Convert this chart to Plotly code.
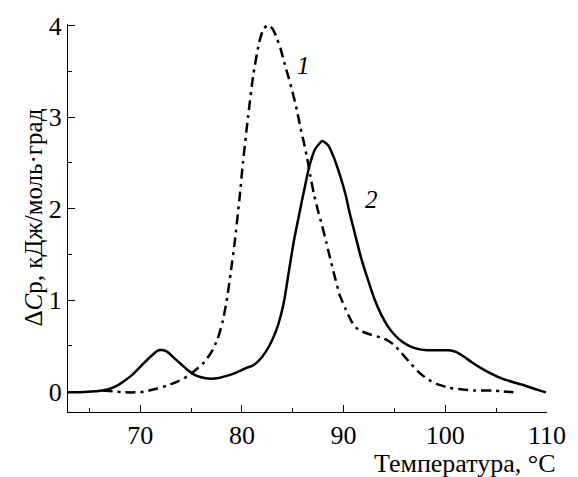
import plotly.graph_objects as go

# Curve 1 (dash-dot)
x1 = [66.3, 67.5, 68.5, 69.5, 70.5, 71.6, 72.7, 73.7, 74.7, 75.5, 76.3, 77.0, 77.6, 78.1, 78.5,
      78.9, 79.3, 79.8, 80.1, 80.6, 81.1, 81.7, 82.1, 82.55, 83.0, 83.35, 83.8, 84.16, 84.6,
      84.97, 85.4, 85.77, 86.1, 86.42, 86.75, 87.06, 87.45, 87.87, 88.3, 88.67, 89.1, 89.6,
      90.2, 90.76, 91.2, 91.7, 92.7, 93.66, 94.3, 94.95, 95.7, 96.56, 97.3, 98.17, 99.2,
      100.4, 101.7, 103.0, 104.6, 105.7, 106.7]
y1 = [0.01, 0.0, -0.01, -0.01, 0.0, 0.03, 0.065, 0.11, 0.17, 0.24, 0.32, 0.43, 0.57, 0.76, 0.99,
      1.30, 1.64, 2.15, 2.50, 3.00, 3.45, 3.82, 3.96, 4.01, 3.97, 3.89, 3.75, 3.60, 3.43,
      3.28, 3.08, 2.88, 2.72, 2.55, 2.35, 2.17, 1.99, 1.82, 1.63, 1.46, 1.27, 1.06,
      0.90, 0.77, 0.70, 0.66, 0.62, 0.59, 0.56, 0.51, 0.42, 0.31, 0.22, 0.14, 0.08,
      0.04, 0.02, 0.01, 0.01, 0.0, -0.01]

# Curve 2 (solid)
x2 = [62.9, 64.5, 66.3, 67.5, 68.5, 69.3, 70.1, 71.0, 71.8, 72.3, 72.7, 73.3, 74.0, 74.6, 75.3,
      76.0, 76.9, 77.6, 78.5, 79.3, 80.1, 80.5, 81.0, 81.4, 82.0, 82.7, 83.35, 83.8, 84.2,
      84.6, 85.1, 85.6, 86.1, 86.6, 87.2, 87.9, 88.5, 89.0, 89.6, 90.2, 90.6, 91.1, 91.7,
      92.4, 93.0, 93.7, 94.3, 95.0, 95.8, 96.6, 97.5, 98.2, 99.3, 100.4, 101.1, 101.7,
      102.6, 103.6, 104.6, 105.6, 106.7, 107.8, 109.0, 109.9]
y2 = [-0.01, -0.005, 0.01, 0.05, 0.12, 0.19, 0.28, 0.38, 0.45, 0.45, 0.43, 0.37, 0.30, 0.24, 0.185,
      0.155, 0.14, 0.145, 0.17, 0.20, 0.24, 0.26, 0.28, 0.31, 0.38, 0.50, 0.66, 0.82, 1.02,
      1.30, 1.64, 1.92, 2.19, 2.45, 2.65, 2.74, 2.69, 2.57, 2.38, 2.15, 1.95, 1.73, 1.47,
      1.22, 1.02, 0.84, 0.72, 0.62, 0.54, 0.49, 0.46, 0.45, 0.45, 0.45, 0.43, 0.39,
      0.32, 0.25, 0.19, 0.14, 0.10, 0.065, 0.02, -0.01]

x_ticks = [70, 80, 90, 100, 110]
y_ticks = [0, 1, 2, 3, 4]

FONT = "Liberation Serif, Times New Roman, serif"

fig = go.Figure()
fig.add_trace(go.Scatter(x=x1, y=y1, mode="lines",
                         line=dict(color="black", width=2.5, dash="10px,5px,3px,5px",
                                   shape="spline", smoothing=0.5)))
fig.add_trace(go.Scatter(x=x2, y=y2, mode="lines",
                         line=dict(color="black", width=2.5, shape="spline", smoothing=0.5)))

fig.update_layout(
    width=578, height=477,
    margin=dict(l=68, r=21, t=23, b=65),
    paper_bgcolor="white", plot_bgcolor="white",
    showlegend=False,
    font=dict(family=FONT, size=26, color="black"),
    xaxis=dict(range=[62.9, 110], tickvals=x_ticks, ticks="inside", ticklen=7, tickwidth=1.2,
               tickcolor="black", showline=True, linecolor="black", linewidth=1.2, showgrid=False,
               zeroline=False, tickfont=dict(family=FONT, size=26),
               minor=dict(tickvals=[65, 75, 85, 95, 105], ticks="inside", ticklen=4, tickcolor="black")),
    yaxis=dict(range=[-0.225, 4.02], tickvals=y_ticks, ticks="inside", ticklen=7, tickwidth=1.2,
               tickcolor="black", showline=True, linecolor="black", linewidth=1.2, showgrid=False,
               zeroline=False, tickfont=dict(family=FONT, size=26),
               minor=dict(tickvals=[0.5, 1.5, 2.5, 3.5], ticks="inside", ticklen=4, tickcolor="black")),
    annotations=[
        dict(text="Температура, °C", xref="paper", yref="paper", x=1.022, y=0, yshift=-51,
             xanchor="right", yanchor="middle", showarrow=False, font=dict(family=FONT, size=26)),
        dict(text="Δ<i>C</i>p, кДж/моль·град", xref="paper", yref="paper", x=-0.074, y=0.5,
             xanchor="center", yanchor="middle", textangle=-90, showarrow=False,
             font=dict(family=FONT, size=25)),
        dict(text="<i>1</i>", x=86.06, y=3.57, xref="x", yref="y", showarrow=False,
             font=dict(family=FONT, size=25)),
        dict(text="<i>2</i>", x=92.7, y=2.10, xref="x", yref="y", showarrow=False,
             font=dict(family=FONT, size=25)),
    ],
)

fig.write_html("out.html")
